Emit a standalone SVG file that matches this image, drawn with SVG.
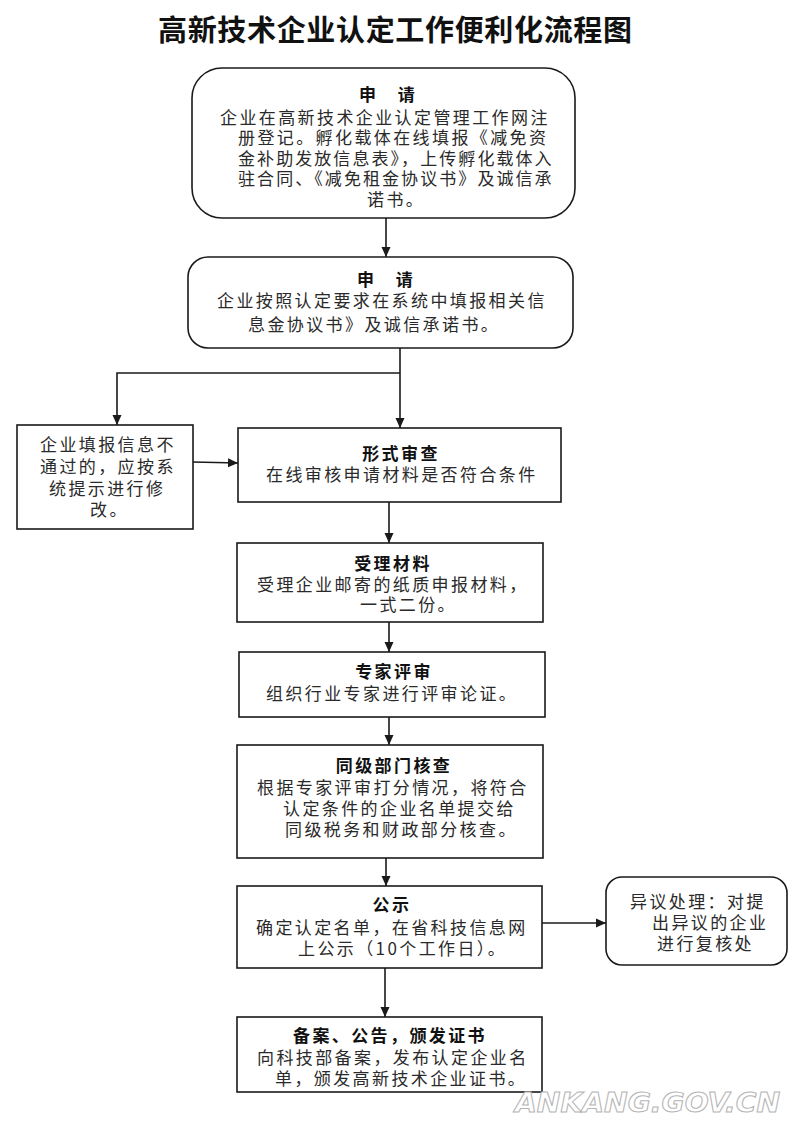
<svg xmlns="http://www.w3.org/2000/svg" width="800" height="1129" viewBox="0 0 800 1129">
<defs>
<marker id="arr" markerUnits="userSpaceOnUse" markerWidth="10" markerHeight="10" refX="10" refY="5" orient="auto">
<path d="M0,0.5 L10,5 L0,9.5 z" fill="#1a1a1a"/>
</marker>
</defs>
<style>
.box{fill:#fff;stroke:#1a1a1a;stroke-width:1.6}
.t{font-family:"Noto Sans CJK SC","Noto Sans",sans-serif;font-size:17px;fill:#2a2a2a;letter-spacing:2.4px;dominant-baseline:central}
.h{font-family:"Noto Sans CJK SC","Noto Sans",sans-serif;font-size:17px;font-weight:700;fill:#111;letter-spacing:2.4px;text-anchor:middle;dominant-baseline:central}
.c{fill:none;stroke:#1a1a1a;stroke-width:1.6}
</style>
<rect width="800" height="1129" fill="#fff"/>
<text x="395" y="28" font-family="'Noto Sans CJK SC',sans-serif" font-size="29" font-weight="700" fill="#111" text-anchor="middle" dominant-baseline="central" textLength="474" lengthAdjust="spacing">高新技术企业认定工作便利化流程图</text>

<g id="connectors">
<line class="c" x1="386" y1="218" x2="386" y2="257" marker-end="url(#arr)"/>
<line class="c" x1="400" y1="348" x2="400" y2="428" marker-end="url(#arr)"/>
<polyline class="c" points="400,373 117,373 117,425" marker-end="url(#arr)"/>
<line class="c" x1="193" y1="462" x2="238" y2="463" marker-end="url(#arr)"/>
<line class="c" x1="389" y1="502" x2="389" y2="543" marker-end="url(#arr)"/>
<line class="c" x1="389" y1="622" x2="389" y2="652" marker-end="url(#arr)"/>
<line class="c" x1="389" y1="717" x2="389" y2="745" marker-end="url(#arr)"/>
<line class="c" x1="386" y1="858" x2="386" y2="886" marker-end="url(#arr)"/>
<line class="c" x1="542" y1="923" x2="606" y2="923" marker-end="url(#arr)"/>
<line class="c" x1="385" y1="968" x2="385" y2="1017" marker-end="url(#arr)"/>
</g>

<g id="apply1">
<rect class="box" x="192" y="68" width="383" height="150" rx="30" ry="30"/>
<text class="h" x="388" y="93">申　请</text>
<text class="t" x="220" y="116">企业在高新技术企业认定管理工作网注</text>
<text class="t" x="238" y="136.5">册登记。孵化载体在线填报《减免资</text>
<text class="t" x="238" y="157" textLength="316" lengthAdjust="spacing">金补助发放信息表》，上传孵化载体入</text>
<text class="t" x="238" y="177.5" textLength="316" lengthAdjust="spacing">驻合同、《减免租金协议书》及诚信承</text>
<text class="t" x="367" y="198">诺书。</text>
</g>

<g id="apply2">
<rect class="box" x="188" y="257" width="385" height="91" rx="20" ry="20"/>
<text class="h" x="386" y="278">申　请</text>
<text class="t" x="217" y="299">企业按照认定要求在系统中填报相关信</text>
<text class="t" x="248" y="323">息金协议书》及诚信承诺书。</text>
</g>

<g id="fail">
<rect class="box" x="17" y="425" width="176" height="104"/>
<text class="t" x="40" y="443">企业填报信息不</text>
<text class="t" x="40" y="465">通过的，应按系</text>
<text class="t" x="49" y="487">统提示进行修</text>
<text class="t" x="90" y="508">改。</text>
</g>

<g id="formal">
<rect class="box" x="238" y="428" width="323" height="74"/>
<text class="h" x="401" y="452">形式审查</text>
<text class="t" x="266" y="473">在线审核申请材料是否符合条件</text>
</g>

<g id="accept">
<rect class="box" x="237" y="543" width="306" height="79"/>
<text class="h" x="393" y="562">受理材料</text>
<text class="t" x="257" y="583">受理企业邮寄的纸质申报材料，</text>
<text class="t" x="360" y="603.5">一式二份。</text>
</g>

<g id="expert">
<rect class="box" x="239" y="652" width="306" height="65"/>
<text class="h" x="394" y="670">专家评审</text>
<text class="t" x="266" y="692">组织行业专家进行评审论证。</text>
</g>

<g id="dept">
<rect class="box" x="237" y="745" width="306" height="113"/>
<text class="h" x="394" y="764">同级部门核查</text>
<text class="t" x="257" y="786.5">根据专家评审打分情况，将符合</text>
<text class="t" x="283" y="807">认定条件的企业名单提交给</text>
<text class="t" x="285" y="828">同级税务和财政部分核查。</text>
</g>

<g id="publicity">
<rect class="box" x="237" y="886" width="305" height="82"/>
<text class="h" x="392" y="903">公示</text>
<text class="t" x="256" y="926.5">确定认定名单，在省科技信息网</text>
<text class="t" x="298" y="947">上公示（10个工作日）。</text>
</g>

<g id="objection">
<rect class="box" x="606" y="877" width="181" height="88" rx="16" ry="16"/>
<text class="t" x="630" y="900">异议处理：对提</text>
<text class="t" x="652" y="921">出异议的企业</text>
<text class="t" x="657" y="942">进行复核处</text>
</g>

<g id="record">
<rect class="box" x="237" y="1017" width="305" height="75"/>
<text class="h" x="390" y="1034">备案、公告，颁发证书</text>
<text class="t" x="257" y="1056">向科技部备案，发布认定企业名</text>
<text class="t" x="275" y="1077">单，颁发高新技术企业证书。</text>
</g>

<text x="515" y="1112" font-family="'DejaVu Sans',sans-serif" font-size="26" font-weight="700" font-style="italic" fill="#fff" stroke="#b5b5b5" stroke-width="1" textLength="265" lengthAdjust="spacingAndGlyphs">ANKANG.GOV.CN</text>
</svg>
